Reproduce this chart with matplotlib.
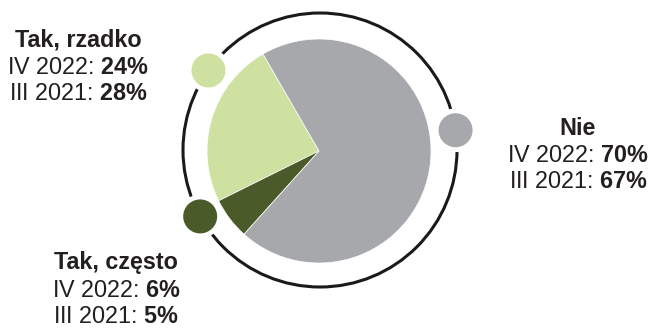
import numpy as np
import matplotlib
matplotlib.use("Agg")
import matplotlib.pyplot as plt
from matplotlib.patches import Circle

plt.rcParams['font.family'] = ['Liberation Sans', 'DejaVu Sans']
plt.rcParams['mathtext.fontset'] = 'custom'
plt.rcParams['mathtext.rm'] = 'Liberation Sans'
plt.rcParams['mathtext.bf'] = 'Liberation Sans:bold'

# data
labels = ['Tak, rzadko', 'Tak, często', 'Nie']
values_2022 = [24, 6, 70]
values_2021 = [28, 5, 67]
colors = ['#CFE1A0', '#4A5A28', '#A7A8AB']

W, H = 651, 328
fig = plt.figure(figsize=(W / 100, H / 100), dpi=100)
ax = fig.add_axes([0, 0, 1, 1])

cx, cy = 319, H - 151
ax.pie(values_2022, colors=colors, startangle=120, counterclock=True,
       radius=112, center=(cx, cy),
       wedgeprops=dict(edgecolor='white', linewidth=0.5))
ax.set_xlim(0, W)
ax.set_ylim(0, H)
ax.set_aspect('equal')
ax.axis('off')

# outer ring
ring_r = 137
ax.add_patch(Circle((320, H - 150), ring_r, fill=False, color='#1a1a1a', lw=2.2, zorder=3))

# markers on the ring
marker_angles = [144.5, 209, 8.3]
for ang, col in zip(marker_angles, colors):
    a = np.deg2rad(ang)
    mx = 320 + ring_r * np.cos(a)
    my = H - 150 + ring_r * np.sin(a)
    ax.add_patch(Circle((mx, my), 17, facecolor=col, edgecolor='white', lw=7, zorder=4))
    ax.add_patch(Circle((mx, my), 17, facecolor=col, edgecolor='none', zorder=5))

# labels (center x, baselines of the three lines, in pixels from top)
label_pos = [(78, (47, 74, 100)), (116, (269, 297, 323)), (578, (135, 162, 188))]
tc = '#231F20'
fs = 16.8
for lab, v22, v21, (lx, ys) in zip(labels, values_2022, values_2021, label_pos):
    ax.text(lx, H - ys[0], lab, ha='center', va='baseline', fontsize=fs,
            fontweight='bold', color=tc)
    ax.text(lx, H - ys[1], 'IV 2022: $\\mathbf{%d\\%%}$' % v22, ha='center',
            va='baseline', fontsize=fs, color=tc)
    ax.text(lx, H - ys[2], 'III 2021: $\\mathbf{%d\\%%}$' % v21, ha='center',
            va='baseline', fontsize=fs, color=tc)

fig.savefig('out.png', dpi=100)
